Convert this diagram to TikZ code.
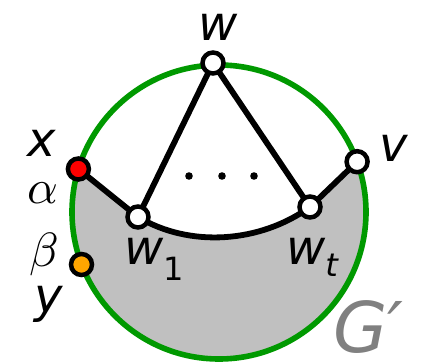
\documentclass[tikz,border=0pt]{standalone}
\usepackage{graphicx}
\usepackage{fontspec}
\setmainfont{DejaVu Sans}
\definecolor{cgreen}{RGB}{0,153,0}
\definecolor{cfill}{RGB}{192,192,192}
\definecolor{corange}{RGB}{255,165,0}
\definecolor{cred}{RGB}{255,0,0}
\definecolor{cgtext}{RGB}{128,128,128}
\pgfdeclarelayer{back}
\pgfdeclarelayer{mid}
\pgfsetlayers{back,mid,main}
\newcommand{\subfont}{\fontsize{32}{34}\selectfont}
\begin{document}
\begin{tikzpicture}[x=1pt,y=-1pt,
  vtx/.style={circle,draw=black,line width=4.5pt,fill=white,minimum size=21pt,inner sep=0pt},
  edgeline/.style={line width=5.8pt},
  lbl/.style={inner sep=0pt,font=\fontsize{48}{52}\selectfont\itshape},
  glbl/.style={inner sep=0pt},
  biglbl/.style={inner sep=0pt,text=cgtext,font=\fontsize{70}{74}\selectfont\itshape}]
\useasboundingbox (0,0) rectangle (428,363);
% vertices
\node[vtx] (w) at (213,63) {};
\node[vtx] (w1) at (138,217) {};
\node[vtx] (wt) at (310,207) {};
\node[vtx,fill=cred] (x) at (78.4,169) {};
\node[vtx] (v) at (357.1,161.7) {};
\node[vtx,fill=corange] (y) at (81.5,264.5) {};
\coordinate (c) at (219,212);
% shaded region and outer circle
\begin{pgfonlayer}{back}
\fill[cfill] (x.center) -- (w1.center) .. controls (190,248) and (260,243) .. (wt.center)
  -- (v.center) arc[start angle=-20, end angle=197, radius=147] -- cycle;
\draw[cgreen,line width=5.6pt] (c) circle[radius=147];
\end{pgfonlayer}
% edges
\begin{pgfonlayer}{mid}
\draw[edgeline] (x.center) -- (w1.center);
\draw[edgeline] (w1.center) .. controls (190,248) and (260,243) .. (wt.center);
\draw[edgeline] (wt.center) -- (v.center);
\draw[edgeline] (w.center) -- (w1.center);
\draw[edgeline] (w.center) -- (wt.center);
\end{pgfonlayer}
% dots
\fill (189,176) circle[radius=3.8];
\fill (222,176) circle[radius=3.8];
\fill (254,176) circle[radius=3.8];
% labels
\node[lbl,anchor=base west] (lw) at (198,41) {w};
\node[lbl,anchor=base west] (lx) at (27,157) {x};
\node[glbl,anchor=base west] (la) at (27,204) {\scalebox{4.8}{$\alpha$}};
\node[glbl,anchor=base west] (lb) at (29,266) {\scalebox{4.8}{$\beta$}};
\node[lbl,anchor=base west] (ly) at (34,312) {y};
\node[lbl,anchor=base west] (lv) at (379,162) {v};
\node[lbl,anchor=base west] (lw1) at (124,265) {w\raisebox{-16pt}{\subfont\upshape 1}};
\node[lbl,anchor=base west] (lwt) at (286,265) {w\raisebox{-12pt}{\subfont t}};
\node[biglbl,anchor=base west] (lg) at (333,352) {G′};
\end{tikzpicture}
\end{document}
